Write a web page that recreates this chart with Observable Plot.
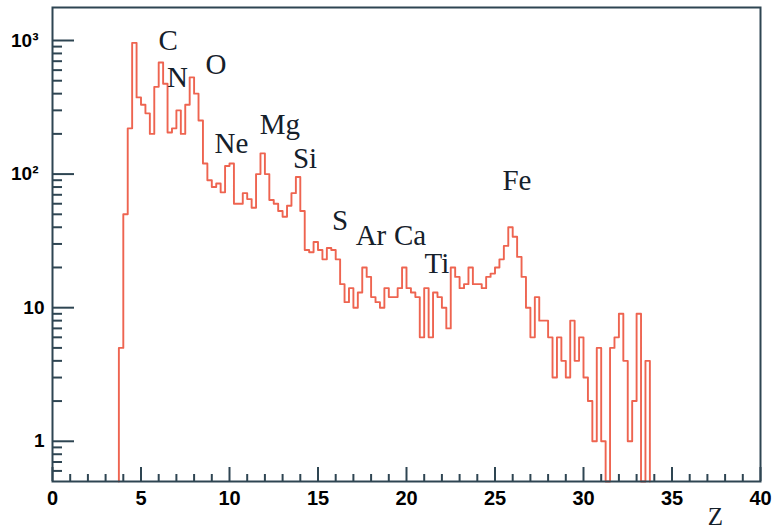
<!DOCTYPE html>
<html><head><meta charset="utf-8">
<script src="https://cdn.jsdelivr.net/npm/d3@7"></script>
<script src="https://cdn.jsdelivr.net/npm/@observablehq/plot@0.6"></script>
<style>
html,body{margin:0;padding:0;background:#fff;}
#chart{position:relative;width:777px;height:532px;overflow:hidden;}
#chart svg{display:block;position:absolute;left:0;top:0;}
</style></head><body><div id="chart"></div>
<script>
// Histogram of charge Z (bin edges start at binStart, width binWidth)
const binStart = 3.75;
const binWidth = 0.25;
const counts = [
  5, 50, 220, 960, 375, 330, 285, 200, 450, 685,
  475, 205, 220, 300, 200, 330, 530, 400, 252, 120,
  90, 80, 85, 73, 115, 120, 60, 60, 72, 65,
  56, 100, 143, 100, 64, 60, 53, 48, 58, 72,
  95, 53, 27, 26, 31, 27, 23, 28, 27, 23,
  15, 11, 14, 10, 13, 20, 17, 12, 11, 10,
  14, 12, 12, 14, 20, 14, 13, 12, 6, 14,
  6, 13, 12, 10, 7, 20, 17, 14, 15, 20,
  15, 15, 14, 17, 18, 20, 23, 29, 40, 34,
  24, 17, 10, 6, 12, 8, 8, 6, 3, 6,
  4, 3, 8, 4, 6, 3, 2, 1, 5, 1,
  0, 5, 6, 9, 4, 1, 2, 9, 0, 4
];

// Element annotations (label, Z position, count-level position)
const elementNames = ["C", "N", "O", "Ne", "Mg", "Si", "S", "Ar", "Ca", "Ti", "Fe"];
const elementZ = [6.53, 7.06, 9.24, 10.11, 12.85, 14.27, 16.24, 17.99, 20.2, 21.72, 26.24];
const elementLevel = [842, 445, 566, 143, 201, 112, 37.9, 29.3, 29.3, 18.1, 75.5];

// Axes
const xDomain = [0, 40];
const yDomain = [0.5, 1766];
const xMajorTicks = [0, 5, 10, 15, 20, 25, 30, 35, 40];
const xMinorTicks = [1,2,3,4,6,7,8,9,11,12,13,14,16,17,18,19,21,22,23,24,26,27,28,29,31,32,33,34,36,37,38,39];
const yLowTicks = [1, 10];
const yLowLabels = ["1", "10"];
const yHighTicks = [100, 1000];
const yHighLabels = ["10²", "10³"];
const yMajorTicks = [1, 10, 100, 1000];
const yMinorTicks = [0.6,0.7,0.8,0.9,2,3,4,5,6,7,8,9,20,30,40,50,60,70,80,90,200,300,400,500,600,700,800,900];
const xTitle = "Z";

// Step outline of the histogram (zero bins drop to the axis floor)
const yFloor = yDomain[0];
const pts = [{z: binStart, v: yFloor}];
counts.forEach((c, i) => pts.push({z: binStart + i * binWidth, v: c > 0 ? c : yFloor}));
const zEnd = binStart + counts.length * binWidth;
pts.push({z: zEnd, v: counts[counts.length - 1] > 0 ? counts[counts.length - 1] : yFloor});
pts.push({z: zEnd, v: yFloor});

const labels = elementNames.map((n, i) => ({name: n, z: elementZ[i], v: elementLevel[i]}));

const W = 777, H = 532, mL = 52, mR = 17, mT = 7, mB = 51;
const innerW = W - mL - mR, innerH = H - mT - mB;
const majorLenY = 22, minorLenY = 10, majorLenX = 14, minorLenX = 7;

const axisColor = "#2e4552";
const sans = "'Liberation Sans', Arial, sans-serif";
const serif = "'Liberation Serif', 'Times New Roman', serif";

const common = {
  width: W, height: H,
  marginLeft: mL, marginRight: mR, marginTop: mT, marginBottom: mB,
  x: {domain: xDomain},
  y: {type: "log", domain: yDomain}
};

// Main layer: histogram, labels
const chart = Plot.plot({
  ...common,
  style: {fontFamily: sans, background: "#fff", color: "#000"},
  marks: [
    Plot.line(pts, {x: "z", y: "v", curve: "step-after", stroke: "#ee6450", strokeWidth: 1.9}),
    Plot.axisX({ticks: xMajorTicks, tickSize: 0, tickPadding: 9, fontSize: 20, fontWeight: "bold", fill: "#000", label: null}),
    Plot.axisY({ticks: yLowTicks, tickSize: 0, tickPadding: 8, fontSize: 19, fontWeight: "bold", fill: "#000", label: null, tickFormat: d => yLowLabels[yLowTicks.indexOf(d)]}),
    Plot.axisY({ticks: yHighTicks, tickSize: 0, tickPadding: 14, fontSize: 19, fontWeight: "bold", fill: "#000", label: null, tickFormat: d => yHighLabels[yHighTicks.indexOf(d)]}),
    Plot.text(labels, {x: "z", y: "v", text: "name", fontFamily: serif, fontSize: 29, fill: "#15202a", lineAnchor: "bottom", textAnchor: "middle"}),
    Plot.text([xTitle], {text: d => d, frameAnchor: "bottom-right", dx: -45, dy: 43, lineAnchor: "bottom", textAnchor: "middle", fontFamily: serif, fontSize: 25, fill: "#15202a"})
  ]
});

// Overlay layer with the same scales: frame and inward ticks
const frameLayer = Plot.plot({
  ...common,
  style: {background: "none"},
  marks: [
    Plot.frame({stroke: axisColor, strokeWidth: 2}),
    Plot.tickX(xMajorTicks, {x: d => d, insetTop: innerH - majorLenX, stroke: axisColor, strokeWidth: 2}),
    Plot.tickX(xMinorTicks, {x: d => d, insetTop: innerH - minorLenX, stroke: axisColor, strokeWidth: 2}),
    Plot.tickY(yMajorTicks, {y: d => d, insetRight: innerW - majorLenY, stroke: axisColor, strokeWidth: 2}),
    Plot.tickY(yMinorTicks, {y: d => d, insetRight: innerW - minorLenY, stroke: axisColor, strokeWidth: 2}),
    Plot.axisX({ticks: [], label: null}),
    Plot.axisY({ticks: [], label: null})
  ]
});

const host = document.getElementById("chart");
host.appendChild(chart);
host.appendChild(frameLayer);
</script>
</body></html>
